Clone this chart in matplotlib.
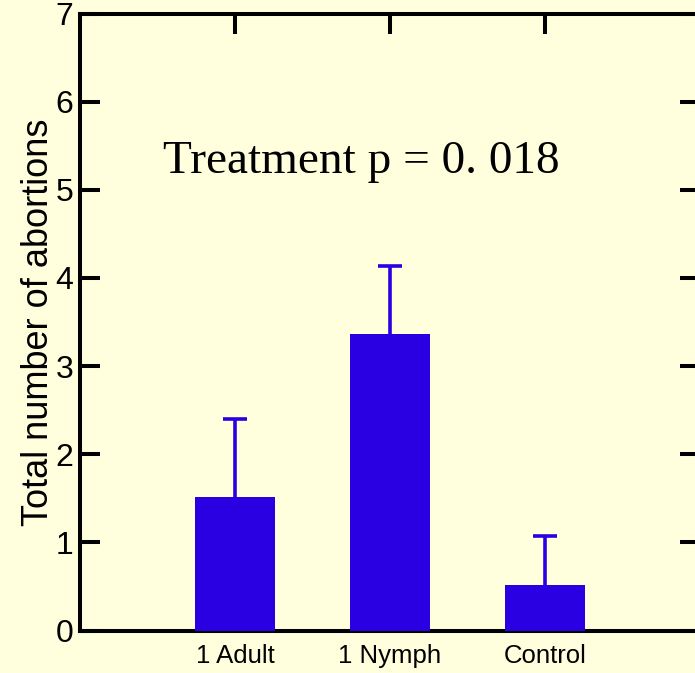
import numpy as np
import matplotlib.pyplot as plt

plt.switch_backend('Agg')

groups = ['1 Adult', '1 Nymph', 'Control']
means = [1.52, 3.36, 0.52]
errs = [0.88, 0.77, 0.55]
yticks = [0, 1, 2, 3, 4, 5, 6, 7]

bg = '#FFFFDD'
blue = '#2A00E3'

fig = plt.figure(figsize=(6.95, 6.73), dpi=100, facecolor=bg)
ax = fig.add_axes([80/695, 42.5/673, 620/695, 617/673], facecolor=bg)

x = np.arange(len(groups))
ax.bar(x, means, width=0.52, color=blue, zorder=3, clip_on=False)
# upper whisker only
eb = ax.errorbar(x, means, yerr=[np.zeros(len(errs)), errs], fmt='none',
                 ecolor=blue, elinewidth=2.6, capsize=8.5, capthick=2.6, zorder=2.5)
eb[1][0].set_visible(False)

ax.set_xlim(-1, 3)
ax.set_ylim(0, 7)
ax.set_yticks(yticks)
ax.set_xticks(x)
ax.set_xticklabels(groups, family='Liberation Sans', fontsize=18.5)
ax.set_yticklabels([str(t) for t in yticks], family='Liberation Sans', fontsize=23)

for s in ax.spines.values():
    s.set_linewidth(2.9)
    s.set_zorder(2)

ax.tick_params(axis='y', which='both', direction='in', length=14.5, width=2.9,
               left=True, right=True, pad=5)
ax.tick_params(axis='x', which='both', direction='in', length=14.5, width=2.9,
               bottom=True, top=True, pad=10)

ax.set_ylabel('Total number of abortions', family='Liberation Sans', fontsize=26)
ax.yaxis.set_label_coords(-24/620, 0.5)

ax.text(0.816, 5.19, 'Treatment p = 0. 018', family='Liberation Serif', fontsize=34,
        ha='center', va='baseline')

fig.savefig('out.png', dpi=100, facecolor=bg)
